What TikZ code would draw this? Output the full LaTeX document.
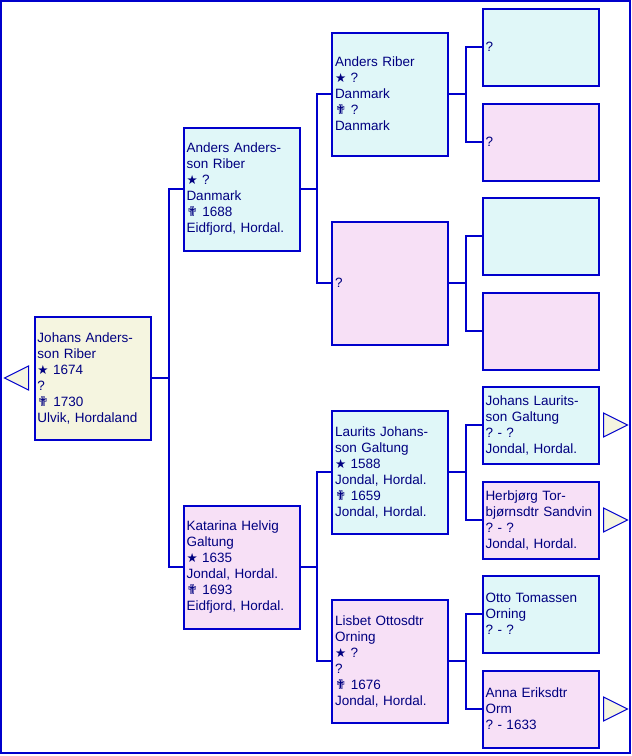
\documentclass[tikz,border=0pt]{standalone}
\usepackage{fontspec}
\setmainfont{Liberation Sans}
\newfontfamily\symfont{DejaVu Sans}
\usetikzlibrary{positioning,calc}
\definecolor{linkblue}{RGB}{0,0,204}
\definecolor{textnavy}{RGB}{0,0,128}
\definecolor{malebg}{RGB}{224,247,248}
\definecolor{femalebg}{RGB}{247,224,246}
\definecolor{rootbg}{RGB}{245,245,224}
\newcommand{\bornmark}{{\symfont\fontsize{12.5}{16}\selectfont ★}}
\newcommand{\deathmark}{{\symfont\fontsize{13.5}{16}\selectfont ✟}}
\frenchspacing

\tikzset{
  personbox/.style={draw=linkblue, line width=2pt, minimum width=116pt, text width=110pt,
    inner xsep=3pt, inner ysep=0pt, align=left, text=textnavy,
    font=\fontsize{13.5}{16}\selectfont},
  tallbox/.style={personbox, minimum height=123pt},
  shortbox/.style={personbox, minimum height=77pt},
  male/.style={fill=malebg},
  female/.style={fill=femalebg},
  root/.style={fill=rootbg},
  link/.style={draw=linkblue, line width=2pt},
  navtri/.style={draw=linkblue, line width=1pt, fill=rootbg, line join=miter},
}

\begin{document}
\begin{tikzpicture}[x=1pt, y=-1pt]
  \useasboundingbox (0,0) rectangle (632,756);
  \draw[linkblue, line width=2pt] (1,1) rectangle (630,753);

  % proband
  \node[tallbox, root] (p0) at (92.5,378) {Johans Anders-\\son Riber\\\bornmark\ 1674\\?\\\deathmark\ 1730\\Ulvik, Hordaland};

  % parents
  \node[tallbox, male] (f) at (241.5,189) {Anders Anders-\\son Riber\\\bornmark\ ?\\Danmark\\\deathmark\ 1688\\Eidfjord, Hordal.};
  \node[tallbox, female] (m) at (241.5,567) {Katarina Helvig\\Galtung\\\bornmark\ 1635\\Jondal, Hordal.\\\deathmark\ 1693\\Eidfjord, Hordal.};

  % grandparents
  \node[tallbox, male] (ff) at (390,94) {Anders Riber\\\bornmark\ ?\\Danmark\\\deathmark\ ?\\Danmark};
  \node[tallbox, female] (fm) at (390,283) {?};
  \node[tallbox, male] (mf) at (390,472) {Laurits Johans-\\son Galtung\\\bornmark\ 1588\\Jondal, Hordal.\\\deathmark\ 1659\\Jondal, Hordal.};
  \node[tallbox, female] (mm) at (390,661) {Lisbet Ottosdtr\\Orning\\\bornmark\ ?\\?\\\deathmark\ 1676\\Jondal, Hordal.};

  % great-grandparents
  \node[shortbox, male] (fff) at (540.5,47) {?};
  \node[shortbox, female] (ffm) at (540.5,142) {?};
  \node[shortbox, male] (fmf) at (540.5,236) {};
  \node[shortbox, female] (fmm) at (540.5,331) {};
  \node[shortbox, male] (mff) at (540.5,425) {Johans Laurits-\\son Galtung\\? - ?\\Jondal, Hordal.};
  \node[shortbox, female] (mfm) at (540.5,520) {Herbjørg Tor-\\bjørnsdtr Sandvin\\? - ?\\Jondal, Hordal.};
  \node[shortbox, male] (mmf) at (540.5,614) {Otto Tomassen\\Orning\\? - ?};
  \node[shortbox, female] (mmm) at (540.5,709) {Anna Eriksdtr\\Orm\\? - 1633};

  % connectors
  \draw[link] (p0.east) -- ++(17,0) coordinate (j0) |- (f.west);
  \draw[link] (j0) |- (m.west);
  \foreach \c/\d/\e in {f/ff/fm, m/mf/mm} {
    \draw[link] (\c.east) -- ++(16,0) coordinate (j\c) |- (\d.west);
    \draw[link] (j\c) |- (\e.west);
  }
  \foreach \c/\d/\e in {ff/fff/ffm, fm/fmf/fmm, mf/mff/mfm, mm/mmf/mmm} {
    \draw[link] (\c.east) -- ++(17,0) coordinate (j\c) |- (\d.west);
    \draw[link] (j\c) |- (\e.west);
  }

  % navigation arrows
  \draw[navtri] ($(p0.west)+(-5,-12)$) -- ++(-24,12) -- ++(24,12) -- cycle;
  \foreach \n in {mff, mfm, mmm}
    \draw[navtri] ($(\n.east)+(4,-12)$) -- ++(24,12) -- ++(-24,12) -- cycle;
\end{tikzpicture}
\end{document}
